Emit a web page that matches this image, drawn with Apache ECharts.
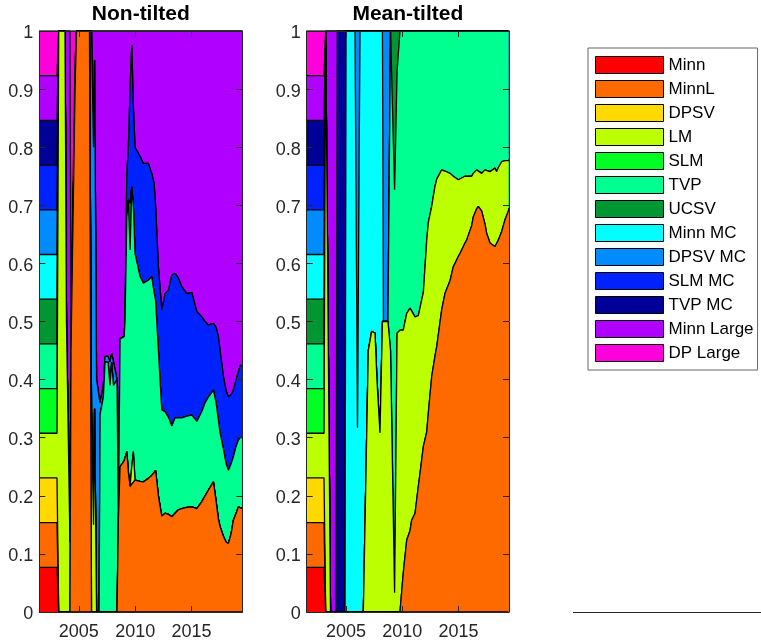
<!DOCTYPE html>
<html>
<head>
<meta charset="utf-8">
<script src="https://cdn.jsdelivr.net/npm/echarts@6.0.0/dist/echarts.min.js"></script>
<style>
html,body{margin:0;padding:0;background:#fff;}
#chart{width:761px;height:641px;}
</style>
</head>
<body>
<div id="chart"></div>
<script>
// ---------------- DATA ----------------
const NAMES = ['Minn','MinnL','DPSV','LM','SLM','TVP','UCSV','Minn MC','DPSV MC','SLM MC','TVP MC','Minn Large','DP Large'];
const PANEL_TITLES = ['Non-tilted','Mean-tilted'];
const X_TICKS = [2005, 2010, 2015];

// Non-tilted panel: dates (decimal years) and model weights
const ntDates = [
2001.5,2003.07,2003.22,2003.78,2003.91,2004.22,2004.31,2004.67,2004.8,2005.95,
2006.13,2006.31,2006.4,2006.58,2006.8,2006.89,2007.18,2007.33,2007.6,2007.77,
2007.92,2008.08,2008.39,2008.51,2008.66,2009.02,2009.1,2009.26,2009.4,2009.55,
2009.7,2009.84,2009.99,2010.44,2010.73,2011.17,2011.47,2011.68,2011.81,2012.06,
2012.36,2012.65,2012.95,2013.25,2013.54,2013.83,2014.14,2014.58,2015.02,2015.47,
2015.91,2016.2,2016.5,2016.94,2017.18,2017.38,2017.53,2017.83,2018.07,2018.27,
2018.51,2018.71,2018.95,2019.16,2019.31,2019.5];

const ntMinn = [
0.07692,0.07692,0,0,0,0,0,0,0,0,
0,0,0,0,0,0,0,0,0,0,
0,0,0,0,0,0,0,0,0,0,
0,0,0,0,0,0,0,0,0,0,
0,0,0,0,0,0,0,0,0,0,
0,0,0,0,0,0,0,0,0,0,
0,0,0,0,0,0];
const ntMinnL = [
0.07692,0.07692,0,0,0,0,0.45,0.9,1,1,
0,0,0,0,0,0,0,0,0,0,
0,0,0,0.158,0.25,0.26,0.26,0.276,0.24,0.216,
0.22,0.22,0.227,0.225,0.224,0.23,0.235,0.24,0.244,0.2,
0.165,0.17,0.168,0.164,0.17,0.176,0.178,0.18,0.181,0.178,
0.19,0.2,0.21,0.224,0.19,0.16,0.147,0.13,0.12,0.118,
0.135,0.158,0.17,0.181,0.18,0.178];
const ntDPSV = [
0.07692,0.07692,0,0,0,0,0,0,0,0,
0,0,0,0,0,0,0,0,0,0,
0,0,0,0,0,0,0,0,0,0,
0,0,0,0,0,0,0,0,0,0,
0,0,0,0,0,0,0,0,0,0,
0,0,0,0,0,0,0,0,0,0,
0,0,0,0,0,0];
const ntLM = [
0.07692,0.07692,1,1,0.5,0.12,0,0,0,0,
0.35,0.15,0.35,0,0,0,0,0,0,0,
0,0,0,0,0,0,0,0,0,0,
0.03,0.056,0,0,0,0,0,0,0,0,
0,0,0,0,0,0,0,0,0,0,
0,0,0,0,0,0,0,0,0,0,
0,0,0,0,0,0];
const ntSLM = [
0.07692,0.07692,0,0,0,0,0,0,0,0,
0,0,0,0,0,0,0,0,0,0,
0,0,0,0,0,0,0,0,0,0,
0,0,0,0,0,0,0,0,0,0,
0,0,0,0,0,0,0,0,0,0,
0,0,0,0,0,0,0,0,0,0,
0,0,0,0,0,0];
const ntTVP = [
0.07692,0.07692,0,0,0,0,0,0,0,0,
0,0,0,0,0,0.34,0.37,0.43,0.43,0.39,
0.43,0.39,0.4,0,0.22,0.214,0.24,0.404,0.469,0.407,
0.482,0.422,0.39,0.352,0.342,0.341,0.342,0.31,0.293,0.25,
0.183,0.175,0.167,0.156,0.164,0.158,0.156,0.157,0.158,0.15,
0.155,0.16,0.16,0.158,0.17,0.17,0.161,0.15,0.135,0.126,
0.12,0.109,0.115,0.115,0.12,0.122];
const ntUCSV = [
0.07692,0.07692,0,0,0,0,0,0,0,0,
0,0,0,0,0,0,0,0,0,0,
0,0,0,0,0,0,0,0,0,0.08,
0,0,0,0,0,0,0,0,0,0,
0,0,0,0,0,0,0,0,0,0,
0,0,0,0,0,0,0,0,0,0,
0,0,0,0,0,0];
const ntMinnMC = [
0.07692,0.07692,0,0,0,0,0,0,0,0,
0,0,0,0,0,0,0,0,0,0,
0,0,0,0,0,0,0,0,0,0,
0,0,0,0,0,0,0,0,0,0,
0,0,0,0,0,0,0,0,0,0,
0,0,0,0,0,0,0,0,0,0,
0,0,0,0,0,0];
const ntDPSVMC = [
0.07692,0.07692,0,0,0,0,0,0,0,0,
0.65,0.65,0.6,0.4,0.37,0.02,0.02,0.01,0.01,0.04,
0.015,0.04,0,0,0,0,0,0,0,0,
0,0,0,0,0,0,0,0,0,0,
0,0,0,0,0,0,0,0,0,0,
0,0,0,0,0,0,0,0,0,0,
0,0,0,0,0,0];
const ntSLMMC = [
0.07692,0.07692,0,0,0,0,0,0,0,0,
0,0,0,0,0,0,0,0,0,0,
0,0,0,0,0,0,0,0.075,0.091,0.197,
0.244,0.172,0.183,0.207,0.206,0.201,0.178,0.188,0.163,0.144,
0.172,0.203,0.219,0.26,0.249,0.241,0.226,0.211,0.211,0.189,
0.163,0.14,0.124,0.115,0.13,0.144,0.142,0.125,0.125,0.127,
0.119,0.115,0.115,0.118,0.125,0.123];
const ntTVPMC = [
0.07692,0.07692,0,0,0,0,0,0,0,0,
0,0,0,0,0,0,0,0,0,0,
0,0,0,0,0,0,0,0,0,0,
0,0,0,0,0,0,0,0,0,0,
0,0,0,0,0,0,0,0,0,0,
0,0,0,0,0,0,0,0,0,0,
0,0,0,0,0,0];
const ntMinnLarge = [
0.07692,0.07692,0,0,0.5,0.88,0.05,0.05,0,0,
0,0.2,0.05,0.6,0.63,0.64,0.61,0.56,0.56,0.57,
0.555,0.57,0.6,0.842,0.53,0.526,0.5,0.245,0.2,0.1,
0.024,0.13,0.2,0.216,0.228,0.228,0.245,0.262,0.3,0.406,
0.48,0.452,0.446,0.42,0.417,0.425,0.44,0.452,0.45,0.483,
0.492,0.5,0.506,0.503,0.51,0.526,0.55,0.595,0.62,0.629,
0.626,0.618,0.6,0.586,0.575,0.577];
const ntDPLarge = [
0.07692,0.07692,0,0,0,0,0.5,0.05,0,0,
0,0,0,0,0,0,0,0,0,0,
0,0,0,0,0,0,0,0,0,0,
0,0,0,0,0,0,0,0,0,0,
0,0,0,0,0,0,0,0,0,0,
0,0,0,0,0,0,0,0,0,0,
0,0,0,0,0,0];

// Mean-tilted panel
const mtDates = [
2001.5,2003.04,2003.19,2003.62,2004.11,2004.22,2004.91,2005.0,2005.8,2006.02,
2006.24,2006.54,2006.98,2007.28,2007.58,2007.75,2008.02,2008.24,2008.33,2008.73,
2008.96,2009.32,2009.54,2009.8,2010.09,2010.4,2010.69,2010.84,2011.14,2011.43,
2011.59,2011.88,2012.18,2012.32,2012.62,2012.91,2013.07,2013.51,2013.8,2014.25,
2014.54,2014.99,2015.14,2015.58,2015.73,2016.18,2016.32,2016.62,2016.77,2017.07,
2017.36,2017.51,2017.81,2018.25,2018.4,2018.55,2018.85,2019.14,2019.44,2019.5];

const mtMinn = [
0.07692,0.07692,0,0,0,0,0,0,0,0,
0,0,0,0,0,0,0,0,0,0,
0,0,0,0,0,0,0,0,0,0,
0,0,0,0,0,0,0,0,0,0,
0,0,0,0,0,0,0,0,0,0,
0,0,0,0,0,0,0,0,0,0];
const mtMinnL = [
0.07692,0.07692,0,0,0,0,0,0,0,0,
0,0,0,0,0,0,0,0,0,0,
0,0,0,0,0.067,0.124,0.14,0.158,0.17,0.216,
0.24,0.285,0.31,0.342,0.405,0.44,0.457,0.52,0.548,0.57,
0.594,0.612,0.617,0.635,0.64,0.665,0.68,0.694,0.698,0.69,
0.668,0.652,0.635,0.629,0.63,0.64,0.655,0.675,0.69,0.695];
const mtDPSV = [
0.07692,0.07692,0,0,0,0,0,0,0,0,
0,0,0,0,0,0,0,0,0,0,
0,0,0,0,0,0,0,0,0,0,
0,0,0,0,0,0,0,0,0,0,
0,0,0,0,0,0,0,0,0,0,
0,0,0,0,0,0,0,0,0,0];
const mtLM = [
0.07692,0.07692,1,0,0,0,0,0,0,0,
0,0,0.45,0.483,0.48,0.4,0.308,0.5,0.5,0.5,
0.45,0.033,0.48,0.485,0.418,0.39,0.383,0.362,0.338,0.294,
0.271,0.265,0.33,0.328,0.293,0.292,0.288,0.241,0.211,0.185,
0.156,0.132,0.129,0.115,0.11,0.085,0.075,0.067,0.062,0.065,
0.093,0.108,0.123,0.135,0.128,0.125,0.12,0.102,0.087,0.083];
const mtSLM = [
0.07692,0.07692,0,0,0,0,0,0,0,0,
0,0,0,0,0,0,0,0,0,0,
0,0,0,0,0,0,0,0,0,0,
0,0,0,0,0,0,0,0,0,0,
0,0,0,0,0,0,0,0,0,0,
0,0,0,0,0,0,0,0,0,0];
const mtTVP = [
0.07692,0.07692,0,0,0,0,0,0,0,0,
0,0,0,0,0,0,0,0,0,0,
0.55,0.694,0.45,0.515,0.515,0.486,0.477,0.48,0.492,0.49,
0.489,0.45,0.36,0.33,0.302,0.268,0.255,0.239,0.241,0.245,
0.25,0.256,0.254,0.25,0.25,0.25,0.245,0.239,0.24,0.245,
0.239,0.24,0.242,0.236,0.242,0.235,0.225,0.223,0.223,0.222];
const mtUCSV = [
0.07692,0.07692,0,0,0,0,0,0,0,0,
0,0,0,0,0,0,0,0,0,0,
0,0.273,0.07,0,0,0,0,0,0,0,
0,0,0,0,0,0,0,0,0,0,
0,0,0,0,0,0,0,0,0,0,
0,0,0,0,0,0,0,0,0,0];
const mtMinnMC = [
0.07692,0.07692,0,0,0,0,0,1,1,0.317,
1,1,0.55,0.517,0.52,0.6,0.692,0.5,0,0,
0,0,0,0,0,0,0,0,0,0,
0,0,0,0,0,0,0,0,0,0,
0,0,0,0,0,0,0,0,0,0,
0,0,0,0,0,0,0,0,0,0];
const mtDPSVMC = [
0.07692,0.07692,0,0,0,0,0,0,0,0.683,
0,0,0,0,0,0,0,0,0.5,0.5,
0,0,0,0,0,0,0,0,0,0,
0,0,0,0,0,0,0,0,0,0,
0,0,0,0,0,0,0,0,0,0,
0,0,0,0,0,0,0,0,0,0];
const mtSLMMC = [
0.07692,0.07692,0,0,0,0,0,0,0,0,
0,0,0,0,0,0,0,0,0,0,
0,0,0,0,0,0,0,0,0,0,
0,0,0,0,0,0,0,0,0,0,
0,0,0,0,0,0,0,0,0,0,
0,0,0,0,0,0,0,0,0,0];
const mtTVPMC = [
0.07692,0.07692,0,0,0,1,1,0,0,0,
0,0,0,0,0,0,0,0,0,0,
0,0,0,0,0,0,0,0,0,0,
0,0,0,0,0,0,0,0,0,0,
0,0,0,0,0,0,0,0,0,0,
0,0,0,0,0,0,0,0,0,0];
const mtMinnLarge = [
0.07692,0.07692,0,1,1,0,0,0,0,0,
0,0,0,0,0,0,0,0,0,0,
0,0,0,0,0,0,0,0,0,0,
0,0,0,0,0,0,0,0,0,0,
0,0,0,0,0,0,0,0,0,0,
0,0,0,0,0,0,0,0,0,0];
const mtDPLarge = [
0.07692,0.07692,0,0,0,0,0,0,0,0,
0,0,0,0,0,0,0,0,0,0,
0,0,0,0,0,0,0,0,0,0,
0,0,0,0,0,0,0,0,0,0,
0,0,0,0,0,0,0,0,0,0,
0,0,0,0,0,0,0,0,0,0];

// ---------------- STYLE ----------------
const COLORS = ['#FF0000','#FF6A00','#FFD900','#BBFF00','#00FF22','#00FF91','#009632',
                '#00FFFF','#008CFF','#0022FF','#000096','#B000FF','#FF00DD'];
const FONT = "'Liberation Sans', Arial, Helvetica, sans-serif";
const AX = '#262626';
const GRIDS = [
  {left: 39.3, top: 31, width: 203, height: 581},
  {left: 306.7, top: 31, width: 202.3, height: 581}
];

const ntValues = [ntMinn, ntMinnL, ntDPSV, ntLM, ntSLM, ntTVP, ntUCSV, ntMinnMC, ntDPSVMC, ntSLMMC, ntTVPMC, ntMinnLarge, ntDPLarge];
const mtValues = [mtMinn, mtMinnL, mtDPSV, mtLM, mtSLM, mtTVP, mtUCSV, mtMinnMC, mtDPSVMC, mtSLMMC, mtTVPMC, mtMinnLarge, mtDPLarge];

// running totals (stacked area tops), built from the weight arrays
function cumulative(valueLists) {
  const out = [];
  let run = valueLists[0].map(() => 0);
  valueLists.forEach(v => {
    run = run.map((r, i) => r + v[i]);
    out.push(run.slice());
  });
  return out;
}

function buildSeries(dates, valueLists, gi) {
  const tops = cumulative(valueLists);
  return tops.map((vals, k) => ({
    name: NAMES[k],
    type: 'line',
    xAxisIndex: gi,
    yAxisIndex: gi,
    symbol: 'none',
    showSymbol: false,
    smooth: false,
    z: 2 + (NAMES.length - 1 - k) * 0.01,
    color: COLORS[k],
    lineStyle: {color: '#000', width: 1.3},
    itemStyle: {color: COLORS[k]},
    areaStyle: {color: COLORS[k], opacity: 1, origin: 'start'},
    emphasis: {disabled: true},
    data: dates.map((d, i) => [d, vals[i]])
  }));
}

const xFmt = v => String(Math.round(v));

const xAxes = [];
const yAxes = [];
[0, 1].forEach(gi => {
  xAxes.push({
    gridIndex: gi, type: 'value', min: 2001.5, max: 2019.5, position: 'bottom', z: 50,
    axisLine: {show: true, onZero: false, lineStyle: {color: AX, width: 1}},
    axisTick: {show: true, inside: true, length: 6, customValues: X_TICKS, lineStyle: {color: AX}},
    axisLabel: {show: true, customValues: X_TICKS, formatter: xFmt, fontSize: 18, color: AX, margin: 11, fontFamily: FONT},
    splitLine: {show: false}
  });
  yAxes.push({
    gridIndex: gi, type: 'value', min: 0, max: 1, interval: 0.1, position: 'left', z: 50,
    axisLine: {show: true, onZero: false, lineStyle: {color: AX, width: 1}},
    axisTick: {show: true, inside: true, length: 6, lineStyle: {color: AX}},
    axisLabel: {show: true, fontSize: 18, color: AX, margin: 6, fontFamily: FONT,
                formatter: v => '{a|' + v + '}', rich: {a: {fontSize: 18, color: AX, fontFamily: FONT, padding: [5, 0, 0, 0]}}},
    splitLine: {show: false}
  });
});
[0, 1].forEach(gi => {
  xAxes.push({
    gridIndex: gi, type: 'value', min: 2001.5, max: 2019.5, position: 'top', z: 50,
    axisLine: {show: true, onZero: false, lineStyle: {color: AX, width: 1}},
    axisTick: {show: true, inside: true, length: 6, customValues: X_TICKS, lineStyle: {color: AX}},
    axisLabel: {show: false},
    splitLine: {show: false}
  });
  yAxes.push({
    gridIndex: gi, type: 'value', min: 0, max: 1, interval: 0.1, position: 'right', z: 50,
    axisLine: {show: true, onZero: false, lineStyle: {color: AX, width: 1}},
    axisTick: {show: true, inside: true, length: 6, lineStyle: {color: AX}},
    axisLabel: {show: false},
    splitLine: {show: false}
  });
});

const option = {
  animation: false,
  backgroundColor: '#fff',
  grid: GRIDS,
  xAxis: xAxes,
  yAxis: yAxes,
  legend: {
    orient: 'vertical', left: 588, top: 48,
    icon: 'rect', itemWidth: 68, itemHeight: 17, itemGap: 6,
    padding: [8, 4, 8, 7],
    borderColor: '#666', borderWidth: 1, backgroundColor: '#fff',
    textStyle: {fontSize: 17, color: '#000', fontFamily: FONT},
    data: NAMES.map((n, k) => ({name: n, icon: 'rect', itemStyle: {color: COLORS[k], borderColor: '#000', borderWidth: 1}}))
  },
  graphic: [
    {type: 'text', x: 140.8, y: 14, z: 100,
     style: {text: PANEL_TITLES[0], fontSize: 21, fontWeight: 'bold', fontFamily: FONT, fill: '#000',
             align: 'center', verticalAlign: 'middle', textAlign: 'center', textVerticalAlign: 'middle'}},
    {type: 'text', x: 407.8, y: 14, z: 100,
     style: {text: PANEL_TITLES[1], fontSize: 21, fontWeight: 'bold', fontFamily: FONT, fill: '#000',
             align: 'center', verticalAlign: 'middle', textAlign: 'center', textVerticalAlign: 'middle'}},
    {type: 'line', z: 100, shape: {x1: 573, y1: 612.5, x2: 761, y2: 612.5}, style: {stroke: AX, lineWidth: 1}}
  ],
  series: buildSeries(ntDates, ntValues, 0).concat(buildSeries(mtDates, mtValues, 1))
};

const chart = echarts.init(document.getElementById('chart'), null, {renderer: 'canvas'});
chart.setOption(option);
</script>
</body>
</html>
